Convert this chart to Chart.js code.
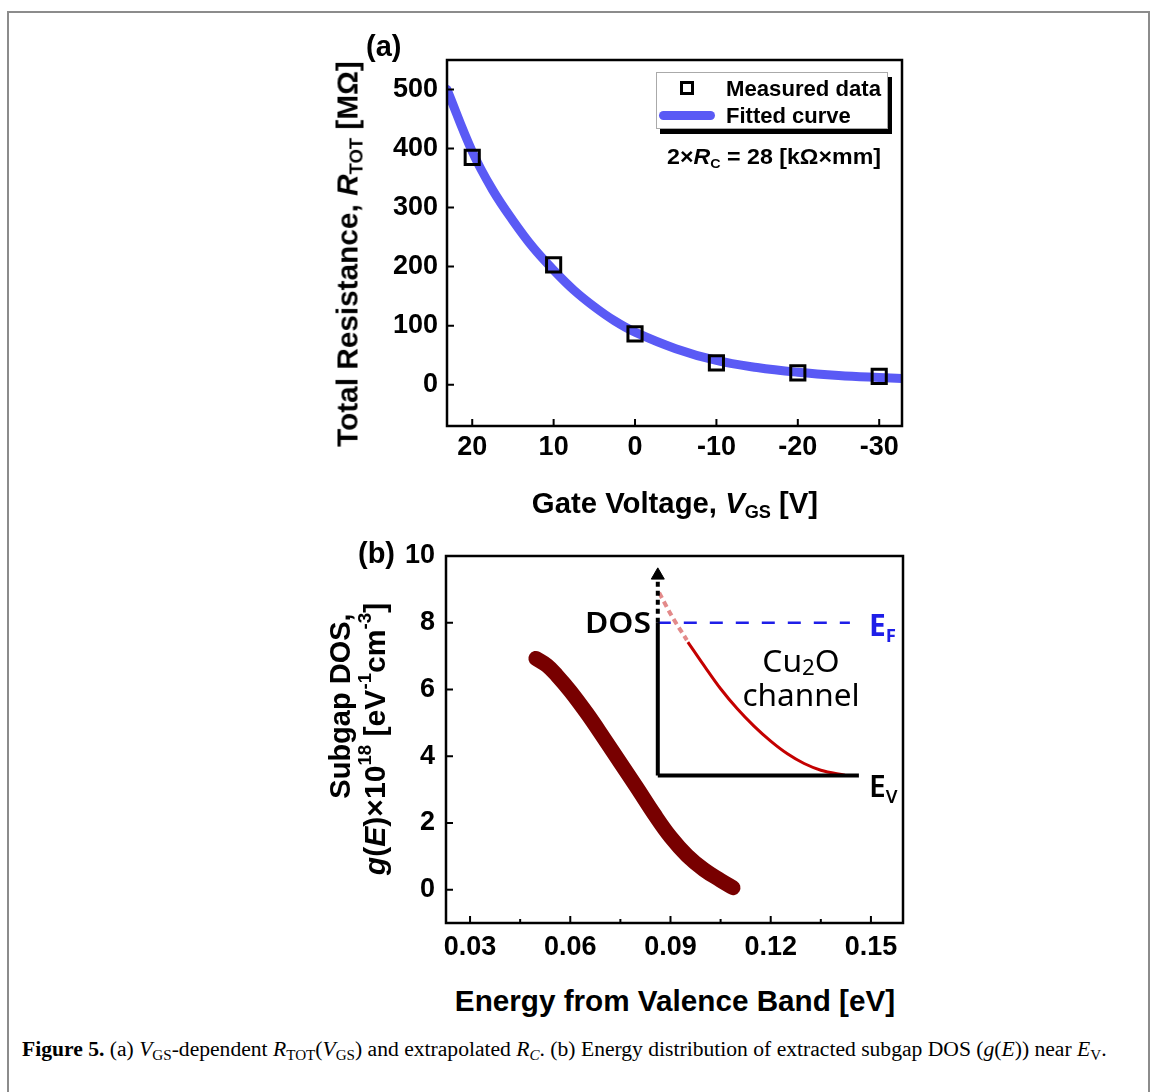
<!DOCTYPE html>
<html>
<head>
<meta charset="utf-8">
<script src="https://cdn.jsdelivr.net/npm/chart.js@4"></script>
<style>
  body { margin:0; width:1152px; height:1092px; position:relative; background:#fff; overflow:hidden; font-family:'Liberation Sans', Arial, sans-serif; }
  .frame { position:absolute; left:7px; top:11px; width:1139px; height:1100px; border:2px solid #8c8c8c; border-bottom:none; }
  .t { position:absolute; white-space:nowrap; line-height:1; color:#000; }
  .b { font-weight:bold; }
  .ns { font-family:'Noto Sans', sans-serif; }
  sub, sup { font-size:62%; line-height:0; }
  sub { vertical-align:-0.3em; }
  sup { vertical-align:0.75em; }
  .cap sub { font-size:70%; vertical-align:-0.25em; }
  canvas { position:absolute; }
  #legend { position:absolute; left:656px; top:72px; width:232px; height:57px; border:1px solid #aaa; box-sizing:border-box; box-shadow:4px 5px 0 #000; background:#fff; }
</style>
</head>
<body>
<div class="frame"></div>

<canvas id="chartA" width="600" height="456" style="left:330px; top:24px"></canvas>
<canvas id="chartB" width="600" height="460" style="left:330px; top:520px"></canvas>

<div class="t b" id="labA" style="font-size:29px">(a)</div>
<div class="t b" id="labB" style="font-size:29px">(b)</div>

<div class="t b" id="yTitleA" style="font-size:29px">Total Resistance, <i>R</i><sub>TOT</sub> [MΩ]</div>
<div class="t b" id="xTitleA" style="font-size:29px">Gate Voltage, <i>V</i><sub>GS</sub> [V]</div>

<div id="legend"></div>
<div class="t" id="legMarker" style="left:680px; top:81px; width:14px; height:14px; border:3px solid #000; box-sizing:border-box"></div>
<div class="t" id="legLine" style="left:659px; top:111px; width:56px; height:9px; border-radius:5px; background:#5a5af5"></div>
<div class="t b" id="legText1" style="font-size:22px">Measured data</div>
<div class="t b" id="legText2" style="font-size:22px">Fitted curve</div>
<div class="t b" id="annA" style="font-size:22px">2×<i>R</i><sub>C</sub> = 28 [kΩ×mm]</div>

<div class="t b" id="yTitleB1" style="font-size:29px">Subgap DOS,</div>
<div class="t b" id="yTitleB2" style="font-size:29px"><i>g</i>(<i>E</i>)×10<sup>18</sup> [eV<sup>-1</sup>cm<sup>-3</sup>]</div>
<div class="t b" id="xTitleB" style="font-size:29px">Energy from Valence Band [eV]</div>

<div class="t ns" id="dosLab" style="font-size:29px; font-weight:600">DOS</div>
<div class="t ns" id="cuLab" style="font-size:31px">Cu<sub style="font-size:70%;vertical-align:-0.15em">2</sub>O</div>
<div class="t ns" id="chLab" style="font-size:31px">channel</div>
<div class="t ns" id="efLab" style="font-size:30px; color:#1e1ee8; font-weight:bold">E<sub style="font-size:62%">F</sub></div>
<div class="t ns" id="evLab" style="font-size:30px; font-weight:600">E<sub style="font-size:62%">V</sub></div>

<div class="t cap" id="caption" style="font-family:'Liberation Serif', serif; font-size:20px"><b>Figure 5.</b> (a) <i>V</i><sub>GS</sub>-dependent <i>R</i><sub>TOT</sub>(<i>V</i><sub>GS</sub>) and extrapolated <i>R</i><sub><i>C</i></sub>. (b) Energy distribution of extracted subgap DOS (<i>g</i>(<i>E</i>)) near <i>E</i><sub>V</sub>.</div>

<script>
/* (a) gemessene Werte */
const gateVoltage = [20, 10, 0, -10, -20, -30];
const totalRes = [385, 203, 86, 37, 20, 14];

/* (a) Fitkurve */
const fitVoltage = [23.1, 20, 17.5, 15, 12.5, 10, 7.5, 5, 2.5, 0, -5, -10, -15, -20, -25, -30, -32.8];
const fitRes = [500, 395, 330, 278, 232, 194, 160, 132, 108, 89, 61, 41, 29, 21, 15.5, 12, 10.5];

const ticksVoltage = [20, 10, 0, -10, -20, -30];
const ticksRes = [0, 100, 200, 300, 400, 500];

/* (b) Subgap DOS */
const energy = [0.0497, 0.053, 0.056, 0.06, 0.065, 0.07, 0.075, 0.08, 0.085, 0.09, 0.095, 0.1, 0.105, 0.1087];
const dos = [6.93, 6.72, 6.42, 5.95, 5.28, 4.55, 3.80, 3.05, 2.28, 1.58, 1.02, 0.60, 0.28, 0.06];

const ticksEnergy = [0.03, 0.06, 0.09, 0.12, 0.15];
const minorEnergy = [0.045, 0.075, 0.105, 0.135];
const ticksDos = [0, 2, 4, 6, 8, 10];

/* Inset-Skizze in (b) */
const insetAxisE = 0.0862;
const insetEv = 3.42;
const insetEf = 8.0;
const insetEvEnd = 0.1464;
const insetEfEnd = 0.1437;
const insetArrowTop = 9.35;
const insetArrowHead = 9.42;
const pinkE = [0.0866, 0.0905, 0.0949];
const pinkG = [8.9, 8.18, 7.48];
const redE = [0.0952, 0.1, 0.105, 0.11, 0.115, 0.12, 0.125, 0.13, 0.135, 0.1422];
const redG = [7.42, 6.72, 6.02, 5.42, 4.9, 4.45, 4.07, 3.78, 3.58, 3.43];

const pts = (xs, ys) => xs.map((x, i) => ({x, y: ys[i]}));
const TICK_FONT = {family: 'Liberation Sans', size: 27, weight: 'bold'};

/* Rahmen + Ticks nach innen */
function boxPlugin(minorX){
  return {
    id: 'box',
    afterDraw(chart){
      const {ctx, chartArea: a, scales} = chart;
      ctx.save();
      ctx.strokeStyle = '#000';
      ctx.lineWidth = 2.5;
      ctx.strokeRect(a.left, a.top, a.right - a.left, a.bottom - a.top);
      ctx.lineWidth = 2;
      ctx.beginPath();
      scales.x.ticks.forEach(t => {
        const p = scales.x.getPixelForValue(t.value);
        ctx.moveTo(p, a.bottom); ctx.lineTo(p, a.bottom - 7);
      });
      minorX.forEach(v => {
        const p = scales.x.getPixelForValue(v);
        ctx.moveTo(p, a.bottom); ctx.lineTo(p, a.bottom - 4);
      });
      scales.y.ticks.forEach(t => {
        const p = scales.y.getPixelForValue(t.value);
        ctx.moveTo(a.left, p); ctx.lineTo(a.left + 7, p);
      });
      ctx.stroke();
      ctx.restore();
    }
  };
}

function axis(min, max, ticks, opts){
  return Object.assign({
    type: 'linear', min, max,
    afterBuildTicks: s => { s.ticks = ticks.map(v => ({value: v})); },
    grid: {display: false, drawTicks: false},
    border: {display: false},
    ticks: {font: TICK_FONT, color: '#000', maxRotation: 0, autoSkip: false}
  }, opts);
}

new Chart(document.getElementById('chartA'), {
  type: 'scatter',
  data: {datasets: [
    {data: pts(gateVoltage, totalRes), pointStyle: 'rect', pointRadius: 10, borderColor: '#000', borderWidth: 3, backgroundColor: 'rgba(0,0,0,0)'},
    {data: pts(fitVoltage, fitRes), showLine: true, pointRadius: 0, borderColor: '#5a5af5', borderWidth: 9, borderCapStyle: 'round', borderJoinStyle: 'round', tension: 0.4}
  ]},
  options: {
    responsive: false, animation: false,
    layout: {padding: {left: 0, right: 28, top: 36, bottom: 0}},
    plugins: {legend: {display: false}, tooltip: {enabled: false}},
    scales: {
      x: axis(-32.8, 23.1, ticksVoltage, {reverse: true, afterFit: s => { s.height = 54; }}),
      y: axis(-70, 550, ticksRes, {afterFit: s => { s.width = 117; }})
    }
  },
  plugins: [boxPlugin([])]
});
const ca = Chart.getChart('chartA');
ca.options.scales.x.ticks.padding = 5;
ca.options.scales.y.ticks.padding = 9;
ca.update();

const thin = {showLine: true, pointRadius: 0, borderColor: '#000', borderWidth: 4};
new Chart(document.getElementById('chartB'), {
  type: 'scatter',
  data: {datasets: [
    {data: pts(energy, dos), showLine: true, pointRadius: 0, borderColor: '#780000', borderWidth: 15, borderCapStyle: 'round', borderJoinStyle: 'round', tension: 0.4},
    Object.assign({data: [{x: insetAxisE, y: insetEv}, {x: insetEvEnd, y: insetEv}]}, thin),
    Object.assign({data: [{x: insetAxisE, y: insetEv}, {x: insetAxisE, y: insetEf}]}, thin),
    Object.assign({}, thin, {data: [{x: insetAxisE, y: insetEf}, {x: insetAxisE, y: insetArrowTop}], borderDash: [5, 4]}),
    {data: [{x: insetAxisE, y: insetArrowHead}], pointStyle: 'triangle', pointRadius: 7.5, backgroundColor: '#000', borderColor: '#000', borderWidth: 1},
    {data: [{x: insetAxisE, y: insetEf}, {x: insetEfEnd, y: insetEf}], showLine: true, pointRadius: 0, borderColor: '#1e1ee8', borderWidth: 2.5, borderDash: [13, 13]},
    {data: pts(pinkE, pinkG), showLine: true, pointRadius: 0, borderColor: '#e38a8a', borderWidth: 4, borderDash: [6, 4], cubicInterpolationMode: 'monotone'},
    {data: pts(redE, redG), showLine: true, pointRadius: 0, borderColor: '#c40000', borderWidth: 3, cubicInterpolationMode: 'monotone'}
  ]},
  options: {
    responsive: false, animation: false,
    layout: {padding: {left: 0, right: 27, top: 36, bottom: 0}},
    plugins: {legend: {display: false}, tooltip: {enabled: false}},
    scales: {
      x: axis(0.0228, 0.1596, ticksEnergy, {afterFit: s => { s.height = 57; }}),
      y: axis(-1, 10, ticksDos, {afterFit: s => { s.width = 116; }})
    }
  },
  plugins: [boxPlugin(minorEnergy)]
});
const cb = Chart.getChart('chartB');
cb.options.scales.x.ticks.padding = 8;
cb.options.scales.x.ticks.callback = v => v.toFixed(2);
cb.options.scales.y.ticks.padding = 11;
cb.update();

/* Texte platzieren, Breite anpassen */
function place(id, x, y, w, opt){
  opt = opt || {};
  const el = document.getElementById(id);
  const k = w ? w / el.offsetWidth : 1;
  el.style.left = x + 'px';
  el.style.top = y + 'px';
  if (opt.rot) {
    el.style.transform = `translate(-50%,-50%) rotate(${opt.rot}deg) scaleX(${k})`;
  } else if (opt.anchor === 'left') {
    el.style.transformOrigin = '0 50%';
    el.style.transform = `translate(0,-50%) scaleX(${k})`;
  } else if (opt.anchor === 'right') {
    el.style.transformOrigin = '100% 50%';
    el.style.transform = `translate(-100%,-50%) scaleX(${k})`;
  } else {
    el.style.transform = `translate(-50%,-50%) scaleX(${k})`;
  }
}

place('labA', 366, 46, 0, {anchor: 'left'});
place('labB', 358, 553, 0, {anchor: 'left'});
place('yTitleA', 348, 254, 386, {rot: -90});
place('xTitleA', 675, 503, 286);
place('legText1', 726, 89, 155, {anchor: 'left'});
place('legText2', 726, 116, 0, {anchor: 'left'});
place('annA', 667, 157, 214, {anchor: 'left'});
place('yTitleB1', 340, 706, 0, {rot: -90});
place('yTitleB2', 375, 739, 272, {rot: -90});
place('xTitleB', 675, 1001, 440);
place('dosLab', 651, 621, 66, {anchor: 'right'});
place('cuLab', 801, 660, 77);
place('chLab', 801, 694, 117);
place('efLab', 869, 625, 0, {anchor: 'left'});
place('evLab', 869, 786, 0, {anchor: 'left'});
place('caption', 22, 1049, 1085, {anchor: 'left'});
</script>
</body>
</html>
